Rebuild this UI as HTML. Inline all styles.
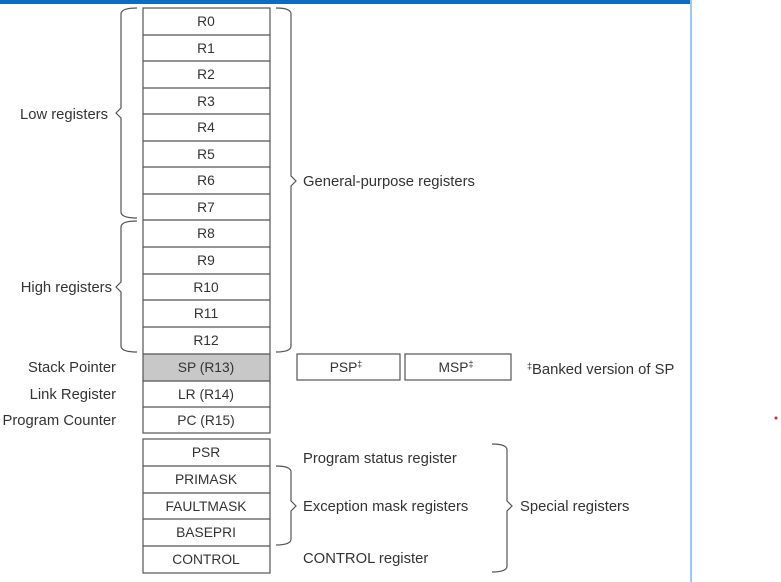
<!DOCTYPE html>
<html><head><style>
html,body{margin:0;padding:0;background:#fff;}
svg{display:block;}
text{font-family:"Liberation Sans",sans-serif;font-size:14.8px;fill:#333;}
.c text{font-size:13.8px;}
</style></head><body>
<svg width="781" height="582" viewBox="0 0 781 582" xmlns="http://www.w3.org/2000/svg">
<rect x="0" y="0" width="692" height="4" fill="#0b6cc4"/>
<rect x="690" y="0" width="2" height="582" fill="#9cc8ee"/>
<circle cx="776" cy="418" r="1.5" fill="#d22"/>
<g stroke="#555" stroke-width="1.2" fill="none">
<rect x="143" y="354" width="127" height="27" fill="#c8c8c8" stroke="none"/>
<rect x="143" y="8" width="127" height="425"/>
<line x1="143" y1="35" x2="270" y2="35"/>
<line x1="143" y1="61" x2="270" y2="61"/>
<line x1="143" y1="88" x2="270" y2="88"/>
<line x1="143" y1="114" x2="270" y2="114"/>
<line x1="143" y1="141" x2="270" y2="141"/>
<line x1="143" y1="167" x2="270" y2="167"/>
<line x1="143" y1="194" x2="270" y2="194"/>
<line x1="143" y1="220" x2="270" y2="220"/>
<line x1="143" y1="247" x2="270" y2="247"/>
<line x1="143" y1="274" x2="270" y2="274"/>
<line x1="143" y1="300" x2="270" y2="300"/>
<line x1="143" y1="327" x2="270" y2="327"/>
<line x1="143" y1="354" x2="270" y2="354"/>
<line x1="143" y1="381" x2="270" y2="381"/>
<line x1="143" y1="407" x2="270" y2="407"/>
<rect x="143" y="439" width="127" height="134"/>
<line x1="143" y1="466" x2="270" y2="466"/>
<line x1="143" y1="493" x2="270" y2="493"/>
<line x1="143" y1="519" x2="270" y2="519"/>
<line x1="143" y1="546" x2="270" y2="546"/>
<rect x="297" y="354" width="103" height="26"/>
<rect x="405" y="354" width="106" height="26"/>
<path d="M137 8 Q121 8 121 14 L121 108 L116 113 L121 118 L121 212 Q121 218 137 218"/>
<path d="M137 221 Q121 221 121 227 L121 282 L116 287 L121 292 L121 346 Q121 352 137 352"/>
<path d="M276 8 Q291 8 291 14 L291 176 L296 181 L291 186 L291 346 Q291 352 276 352"/>
<path d="M276 466 Q291 466 291 472 L291 501 L296 506 L291 511 L291 539 Q291 545 276 545"/>
<path d="M492 444 Q507 444 507 450 L507 501 L512 506 L507 511 L507 566 Q507 572 492 572"/>
</g>
<g text-anchor="middle" class="c">
<text x="206" y="26">R0</text>
<text x="206" y="53">R1</text>
<text x="206" y="79">R2</text>
<text x="206" y="106">R3</text>
<text x="206" y="132">R4</text>
<text x="206" y="159">R5</text>
<text x="206" y="185">R6</text>
<text x="206" y="212">R7</text>
<text x="206" y="238">R8</text>
<text x="206" y="265">R9</text>
<text x="206" y="292">R10</text>
<text x="206" y="318">R11</text>
<text x="206" y="345">R12</text>
<text x="206" y="372">SP (R13)</text>
<text x="206" y="399">LR (R14)</text>
<text x="206" y="425">PC (R15)</text>
<text x="206" y="457">PSR</text>
<text x="206" y="484">PRIMASK</text>
<text x="206" y="511">FAULTMASK</text>
<text x="206" y="537">BASEPRI</text>
<text x="206" y="564">CONTROL</text>
<text x="346" y="372">PSP<tspan font-size="9" dy="-5">‡</tspan></text>
<text x="456" y="372">MSP<tspan font-size="9" dy="-5">‡</tspan></text>
</g>
<g text-anchor="end">
<text x="108" y="119">Low registers</text>
<text x="112" y="292">High registers</text>
<text x="116" y="372">Stack Pointer</text>
<text x="116" y="399">Link Register</text>
<text x="116" y="425">Program Counter</text>
</g>
<text x="303" y="186">General-purpose registers</text>
<text x="527" y="374"><tspan font-size="9" dy="-5">‡</tspan><tspan dy="5">Banked version of SP</tspan></text>
<text x="303" y="463">Program status register</text>
<text x="303" y="511">Exception mask registers</text>
<text x="303" y="563">CONTROL register</text>
<text x="520" y="511">Special registers</text>
</svg>
</body></html>
